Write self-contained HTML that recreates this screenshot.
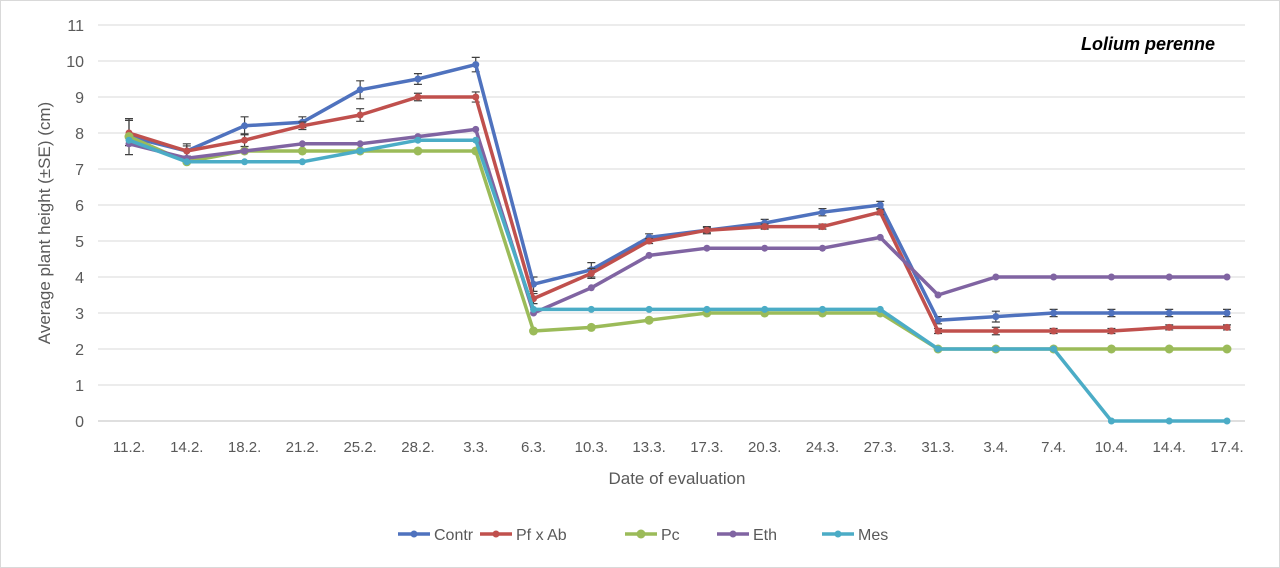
<!DOCTYPE html>
<html><head><meta charset="utf-8"><style>
body{margin:0;background:#fff;}
svg{display:block;font-family:"Liberation Sans",sans-serif;}
</style></head><body>
<svg id="chart" width="1280" height="568">
<rect x="0.5" y="0.5" width="1279" height="567" fill="#fff" stroke="#d9d9d9"/>
<g id="grid"></g><g id="ylabels"></g><g id="xlabels"></g><g id="series"></g>
<text x="1215" y="50" text-anchor="end" font-size="18" font-weight="bold" font-style="italic" fill="#000">Lolium perenne</text>
<text transform="translate(50,223) rotate(-90)" text-anchor="middle" font-size="17" fill="#595959">Average plant height (±SE) (cm)</text>
<text x="677" y="484" text-anchor="middle" font-size="17" fill="#595959">Date of evaluation</text>
<g id="legend"></g>
</svg>
<script>
const categories=["11.2.","14.2.","18.2.","21.2.","25.2.","28.2.","3.3.","6.3.","10.3.","13.3.","17.3.","20.3.","24.3.","27.3.","31.3.","3.4.","7.4.","10.4.","14.4.","17.4."];
const yTicks=[0,1,2,3,4,5,6,7,8,9,10,11];
const seriesNames=["Contr","Pf x Ab","Pc","Eth","Mes"];
const contr=[7.9,7.5,8.2,8.3,9.2,9.5,9.9,3.8,4.2,5.1,5.3,5.5,5.8,6.0,2.8,2.9,3.0,3.0,3.0,3.0];
const pfab=[8.0,7.5,7.8,8.2,8.5,9.0,9.0,3.4,4.1,5.0,5.3,5.4,5.4,5.8,2.5,2.5,2.5,2.5,2.6,2.6];
const pc=[7.9,7.2,7.5,7.5,7.5,7.5,7.5,2.5,2.6,2.8,3.0,3.0,3.0,3.0,2.0,2.0,2.0,2.0,2.0,2.0];
const eth=[7.7,7.3,7.5,7.7,7.7,7.9,8.1,3.0,3.7,4.6,4.8,4.8,4.8,5.1,3.5,4.0,4.0,4.0,4.0,4.0];
const mes=[7.8,7.2,7.2,7.2,7.5,7.8,7.8,3.1,3.1,3.1,3.1,3.1,3.1,3.1,2.0,2.0,2.0,0,0,0];
const errs=[0.5,0.2,0.25,0.15,0.25,0.15,0.2,0.2,0.2,0.1,0.1,0.1,0.1,0.1,0.1,0.15,0.1,0.1,0.1,0.1];
const colors=["#4f72be","#c0504d","#9bbb59","#8064a2","#4bacc6"];
const NS="http://www.w3.org/2000/svg";
const X0=129,X1=1227,Y0=421,YU=36;
const xs=i=>X0+i*(X1-X0)/(categories.length-1);
const ys=v=>Y0-v*YU;
function mk(tag,attrs,parent){const e=document.createElementNS(NS,tag);for(const k in attrs)e.setAttribute(k,attrs[k]);parent.appendChild(e);return e;}
const grid=document.getElementById('grid'),yl=document.getElementById('ylabels'),xl=document.getElementById('xlabels');
yTicks.forEach(t=>{
 const l=mk('line',{x1:98,x2:1245,y1:ys(t),y2:ys(t),stroke:t===0?'#bfbfbf':'#d9d9d9','stroke-width':1},grid);
 
 
 const tx=mk('text',{x:84,y:ys(t)+6,'text-anchor':'end','font-size':16,fill:'#595959'},yl);tx.textContent=t;
 
 
});
categories.forEach((c,i)=>{
 const tx=mk('text',{x:xs(i),y:452,'text-anchor':'middle','font-size':15,fill:'#595959'},xl);tx.textContent=c;
 
 
});
const data=[contr,pfab,pc,eth,mes];
const sg=document.getElementById('series');
data.forEach((d,s)=>{
 const g=mk('g',{},sg);
 
 
 if(s===0||s===1){d.forEach((v,i)=>{const e=errs[i]*(s===0?1:0.7);const x=xs(i);
  mk('path',{d:`M${x},${ys(v+e)}V${ys(v-e)}M${x-4},${ys(v+e)}h8M${x-4},${ys(v-e)}h8`,stroke:'#404040','stroke-width':1.2,fill:'none'},g);});}
 const p=mk('polyline',{points:d.map((v,i)=>xs(i)+','+ys(v)).join(' '),fill:'none',stroke:colors[s],'stroke-width':3.5,'stroke-linejoin':'round'},g);
 
 
 d.forEach((v,i)=>{const c=mk('circle',{cx:xs(i),cy:ys(v),r:s===2?4.5:3.5,fill:colors[s]},g);
  
  });
});
const lg=document.getElementById('legend');
const lx=[398,480,625,717,822];
seriesNames.forEach((n,s)=>{
 const g=mk('g',{},lg);
 
 
 mk('line',{x1:lx[s],x2:lx[s]+32,y1:534,y2:534,stroke:colors[s],'stroke-width':3.5},g);
 mk('circle',{cx:lx[s]+16,cy:534,r:s===2?4.5:3.5,fill:colors[s]},g);
 const t=mk('text',{x:lx[s]+36,y:540,'font-size':16,fill:'#595959'},g);t.textContent=n;
});
</script>
</body></html>
